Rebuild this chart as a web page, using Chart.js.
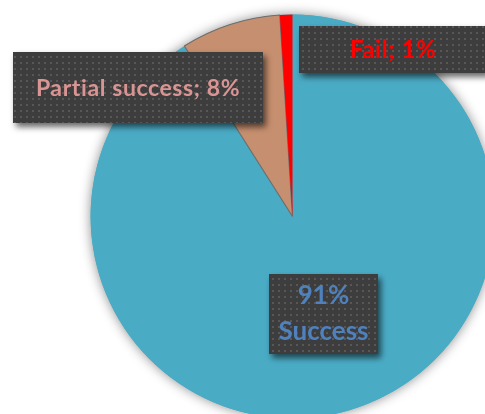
<!DOCTYPE html>
<html>
<head>
<meta charset="utf-8">
<script src="https://cdn.jsdelivr.net/npm/chart.js@4/dist/chart.umd.min.js"></script>
<style>
  html, body { margin: 0; padding: 0; background: #ffffff; overflow: hidden; }
  #wrap { position: relative; width: 485px; height: 414px; overflow: hidden; }
  #pie { position: absolute; left: 0; top: 0; }
</style>
</head>
<body>
<div id="wrap"><canvas id="pie" width="500" height="420"></canvas></div>
<script>
// Outcome shares (percent)
const categories = ['Success', 'Partial success', 'Fail'];
const shares = [91, 8, 1];

// Slice fills and label text colours
const sliceColors = ['#4aabc5', '#c68f6f', '#ff0000'];
const labelColors = ['#4f81bd', '#d99594', '#ff0000'];

// Dark dotted fill used behind the data labels
function dottedPattern(ctx) {
  const c = document.createElement('canvas');
  c.width = 6; c.height = 6;
  const g = c.getContext('2d');
  g.fillStyle = '#3d3d3d';
  g.fillRect(0, 0, 6, 6);
  g.fillStyle = '#575757';
  g.fillRect(2, 2, 2, 2);
  return ctx.createPattern(c, 'repeat');
}

// Soft halo drawn behind the whole pie
const pieShadow = {
  id: 'pieShadow',
  beforeDatasetsDraw(chart) {
    const arc = chart.getDatasetMeta(0).data[0];
    if (!arc) return;
    const ctx = chart.ctx;
    ctx.save();
    ctx.shadowColor = 'rgba(0,0,0,0.45)';
    ctx.shadowBlur = 12;
    ctx.beginPath();
    ctx.arc(arc.x, arc.y, arc.outerRadius, 0, Math.PI * 2);
    ctx.fillStyle = sliceColors[0];
    ctx.fill();
    ctx.restore();
  }
};

// Boxed data labels, placed by hand next to their slices
const boxLabels = {
  id: 'boxLabels',
  afterDatasetsDraw(chart, args, opts) {
    const ctx = chart.ctx;
    const pattern = dottedPattern(ctx);
    opts.boxes.forEach(b => {
      const i = b.index;
      const lines = b.style === 'stacked'
        ? [shares[i] + '%', categories[i]]
        : [categories[i] + '; ' + shares[i] + '%'];
      ctx.save();
      ctx.shadowColor = 'rgba(0,0,0,0.6)';
      ctx.shadowBlur = 6;
      ctx.shadowOffsetX = 3;
      ctx.shadowOffsetY = 4;
      ctx.fillStyle = pattern;
      ctx.fillRect(b.x, b.y, b.w, b.h);
      ctx.restore();

      ctx.save();
      ctx.font = 'bold ' + b.size + 'px Lato, "Open Sans", sans-serif';
      if ('letterSpacing' in ctx) ctx.letterSpacing = (b.spacing || 0) + 'px';
      ctx.fillStyle = labelColors[i];
      ctx.textAlign = 'center';
      ctx.textBaseline = 'middle';
      const cx = b.x + b.w / 2 + (b.dx || 0);
      const cy = b.y + b.h / 2 + (b.dy || 0);
      const lh = b.lineHeight || b.size;
      lines.forEach((t, k) => {
        ctx.fillText(t, cx, cy + (k - (lines.length - 1) / 2) * lh);
      });
      ctx.restore();
    });
  }
};

new Chart(document.getElementById('pie'), {
  type: 'pie',
  data: {
    labels: categories,
    datasets: [{
      data: shares,
      backgroundColor: sliceColors,
      borderColor: ['rgba(0,0,0,0)', '#6e6e6e', 'rgba(0,0,0,0)'],
      borderWidth: [0, 1.2, 0]
    }]
  },
  options: {
    responsive: false,
    animation: false,
    layout: { padding: { left: 90, top: 14, right: 5, bottom: 1 } },
    plugins: {
      legend: { display: false },
      tooltip: { enabled: false },
      boxLabels: {
        boxes: [
          { index: 1, x: 13, y: 52, w: 250, h: 71, size: 23, spacing: 0.6, dy: 1 },
          { index: 2, x: 299, y: 26, w: 188, h: 47, size: 24, spacing: 0.5, dy: 1 },
          { index: 0, x: 269, y: 274, w: 109, h: 80, size: 26, lineHeight: 36, style: 'stacked' }
        ]
      }
    }
  },
  plugins: [pieShadow, boxLabels]
});
</script>
</body>
</html>
